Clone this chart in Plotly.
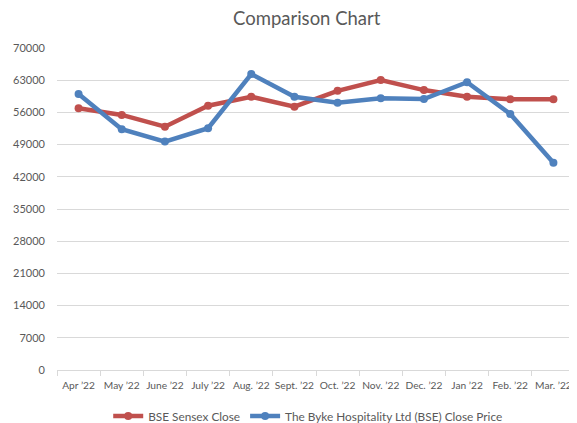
import plotly.graph_objects as go

months = ["Apr ’22", "May ’22", "June ’22", "July ’22", "Aug. ’22", "Sept. ’22",
          "Oct. ’22", "Nov. ’22", "Dec. ’22", "Jan ’22", "Feb. ’22", "Mar. ’22"]
sensex = [56900, 55450, 52900, 57450, 59400, 57250, 60700, 63050, 60850, 59400, 58850, 58850]
byke = [60000, 52350, 49650, 52550, 64350, 59400, 58100, 59050, 58900, 62550, 55650, 45050]
yticks = [0, 7000, 14000, 21000, 28000, 35000, 42000, 49000, 56000, 63000, 70000]

font = "Lato, 'Open Sans', sans-serif"

fig = go.Figure()
fig.add_trace(go.Scatter(x=months, y=sensex, name="BSE Sensex Close", mode="lines+markers",
                         line=dict(color="#C0504D", width=4.5), marker=dict(size=8, color="#C0504D")))
fig.add_trace(go.Scatter(x=months, y=byke, name="The Byke Hospitality Ltd (BSE) Close Price",
                         mode="lines+markers",
                         line=dict(color="#4F81BD", width=4.5), marker=dict(size=8, color="#4F81BD")))

fig.update_layout(
    width=569, height=415,
    margin=dict(l=49, r=2, t=40, b=53, autoexpand=False),
    paper_bgcolor="white", plot_bgcolor="white",
    font=dict(family=font, size=10.5, color="#595959"),
    title=dict(text="Comparison Chart", x=0.525, xanchor="center", y=0.975, yanchor="middle",
               font=dict(size=18.5, color="#595959", family=font)),
    legend=dict(orientation="h", x=0.484, xanchor="center", y=-0.143, yanchor="middle",
                font=dict(size=11.8, color="#595959"), tracegroupgap=0),
    xaxis=dict(type="category", range=[-0.5, 11.5], showgrid=False, showline=True,
               linecolor="#D9D9D9", linewidth=1, ticks="outside", tickson="boundaries",
               ticklen=5, tickcolor="#D9D9D9", tickangle=0, fixedrange=True,
               tickfont=dict(size=10.2), ticklabelstandoff=6),
    yaxis=dict(range=[0, 70000], tickvals=yticks, ticktext=[str(v) for v in yticks],
               showgrid=True, gridcolor="#D9D9D9", gridwidth=1, zeroline=False,
               showline=False, ticks="", ticklabelstandoff=11, tickfont=dict(size=11)),
)

fig.write_html("out.html")
